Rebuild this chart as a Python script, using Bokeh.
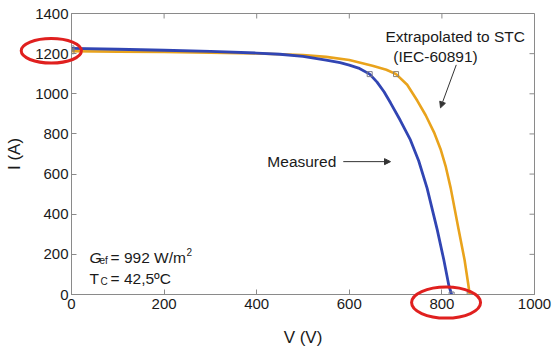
from bokeh.plotting import figure
from bokeh.models import ColumnDataSource, Label, Arrow, NormalHead, Range1d, FixedTicker
from bokeh.embed import file_html
from bokeh.resources import INLINE

FONT = "Liberation Sans"

# I-V curve of the PV array, measured
v_meas = [0, 100, 200, 300, 400, 450, 500, 550, 580, 600, 620, 644, 660, 675, 689, 710, 732,
          750, 768, 790, 804, 815, 821]
i_meas = [1226, 1222, 1217, 1211, 1203, 1197, 1186, 1168, 1155, 1143, 1128, 1098, 1058, 1010,
          955, 868, 770, 665, 530, 322, 174, 45, 0]

# same curve translated to STC
v_stc = [0, 100, 200, 300, 400, 500, 550, 600, 650, 680, 701, 725, 747, 765, 783, 797, 808,
         819, 836, 849, 857, 860]
i_stc = [1212, 1210, 1208, 1205, 1201, 1193, 1184, 1168, 1140, 1120, 1098, 1045, 965, 893,
         808, 725, 640, 530, 325, 172, 50, 0]

# characteristic points (Isc, MPP, Voc)
v_pts_meas = [0, 644, 821]
i_pts_meas = [1226, 1098, 0]
v_pts_stc = [0, 701, 860]
i_pts_stc = [1212, 1098, 0]

x_ticks = [0, 200, 400, 600, 800, 1000]
y_ticks = [0, 200, 400, 600, 800, 1000, 1200, 1400]
X_MAX, Y_MAX = 1000, 1400

# highlighted regions: (x, y, width, height) in data units
hl_x = [-43.6, 809]
hl_y = [1214, -40]
hl_w = [130, 149]
hl_h = [122, 155]

BLUE = "#3145b3"
ORANGE = "#e9a31c"
GRAY = "#8a8a8a"
INK = "#1a1a1a"

p = figure(width=555, height=356, output_backend="svg", toolbar_location=None,
           x_range=Range1d(0, X_MAX), y_range=Range1d(0, Y_MAX),
           min_border_left=71, min_border_right=21, min_border_top=13, min_border_bottom=62)
p.background_fill_color = "white"
p.border_fill_color = "white"
p.outline_line_color = GRAY
p.outline_line_width = 1
p.grid.visible = False

for ax in (p.xaxis[0], p.yaxis[0]):
    ax.axis_line_color = GRAY
    ax.major_tick_line_color = GRAY
    ax.major_tick_in = 5
    ax.major_tick_out = 0
    ax.minor_tick_line_color = None
    ax.major_label_text_font = FONT
    ax.major_label_text_font_size = "15px"
    ax.major_label_text_color = INK
    ax.axis_label_text_font = FONT
    ax.axis_label_text_font_size = "17px"
    ax.axis_label_text_font_style = "normal"
    ax.axis_label_text_color = INK

p.xaxis[0].ticker = FixedTicker(ticks=x_ticks)
p.yaxis[0].ticker = FixedTicker(ticks=y_ticks)
p.xaxis[0].axis_label = "V (V)"
p.yaxis[0].axis_label = "I (A)"
p.xaxis[0].major_label_standoff = 4
p.yaxis[0].major_label_standoff = 3
p.xaxis[0].axis_label_standoff = 16
p.yaxis[0].axis_label_standoff = 8

# inward ticks along the top and right edges of the box
p.ray(x=x_ticks, y=[Y_MAX] * len(x_ticks), length=5, length_units="screen",
      angle=-90, angle_units="deg", line_color=GRAY, line_width=1)
p.ray(x=[X_MAX] * len(y_ticks), y=y_ticks, length=5, length_units="screen",
      angle=180, angle_units="deg", line_color=GRAY, line_width=1)

# curves
p.line(v_stc, i_stc, line_color=ORANGE, line_width=2.6, line_join="round")
p.line(v_meas, i_meas, line_color=BLUE, line_width=2.8, line_join="round")
p.scatter(v_pts_meas, i_pts_meas, marker="square", size=5, fill_color=None,
          line_color="#7a7a8a", line_width=1)
p.scatter(v_pts_stc, i_pts_stc, marker="square", size=5, fill_color=None,
          line_color="#8a8070", line_width=1)

# red highlight ellipses
hl = ColumnDataSource(dict(x=hl_x, y=hl_y, w=hl_w, h=hl_h))
p.ellipse(x="x", y="y", width="w", height="h", source=hl, fill_color=None,
          line_color="#e0201f", line_width=3, level="overlay")


def label(x, y, text, size="15.5px", style="normal", dx=0, dy=0, baseline="alphabetic"):
    p.add_layout(Label(x=x, y=y, text=text, x_offset=dx, y_offset=dy,
                       text_font=FONT, text_font_size=size, text_font_style=style,
                       text_color=INK, text_align="left", text_baseline=baseline))


def arrow(x0, y0, x1, y1):
    p.add_layout(Arrow(x_start=x0, y_start=y0, x_end=x1, y_end=y1, line_width=1,
                       line_color="#333333",
                       end=NormalHead(size=6, fill_color="#333333", line_color="#333333")))


# curve annotations
label(678, 1284, "Extrapolated to STC", baseline="middle")
label(695, 1184, "(IEC-60891)", baseline="middle")
arrow(831, 1144, 797, 930)

label(423, 662, "Measured", baseline="middle")
arrow(587, 662, 689, 662)

# operating conditions
gx, gy, ty = 39, 184, 80
label(gx, gy, "G", style="italic")
label(gx, gy, "ef", size="10px", dx=10, dy=-3)
label(gx, gy, "= 992 W/m", dx=21)
label(gx, gy, "2", size="10px", dx=97, dy=6)
label(gx, ty, "T")
label(gx, ty, "C", size="10px", dx=11, dy=-3)
label(gx, ty, "= 42,5ºC", dx=21)

open("out.html", "w").write(file_html(p, INLINE))
